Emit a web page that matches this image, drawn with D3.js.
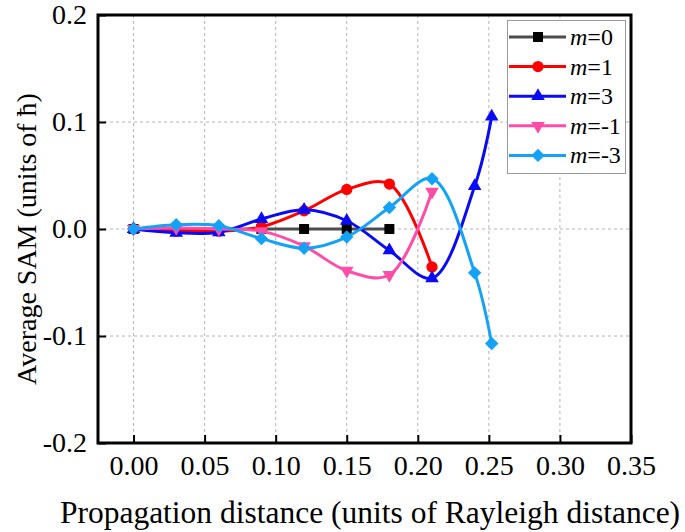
<!DOCTYPE html>
<html>
<head>
<meta charset="utf-8">
<script src="https://cdn.jsdelivr.net/npm/d3@7"></script>
<style>
  body { margin: 0; background: #fff; }
  svg { display: block; }
</style>
</head>
<body>
<svg id="chart" width="685" height="532"></svg>
<script>
// propagation distance (units of Rayleigh distance)
const distance = [0, 0.03, 0.06, 0.09, 0.12, 0.15, 0.18, 0.21, 0.24, 0.252];

// average SAM per topological charge
const samM0 = [0, 0, 0, 0, 0, 0, 0];
const samM1 = [0, -0.002, -0.002, 0.002, 0.017, 0.037, 0.042, -0.0355];
const samM3 = [0, -0.0035, -0.003, 0.0093, 0.018, 0.0077, -0.020, -0.046, 0.040, 0.105];
const samMneg1 = [0, 0.001, 0, -0.002, -0.016, -0.039, -0.043, 0.035];
const samMneg3 = [0, 0.004, 0.003, -0.009, -0.018, -0.0075, 0.020, 0.047, -0.041, -0.107];

const seriesNames = ['0', '1', '3', '-1', '-3'];
const xTicks = [0, 0.05, 0.10, 0.15, 0.20, 0.25, 0.30, 0.35];
const yTicks = [-0.2, -0.1, 0.0, 0.1, 0.2];

const series = [
  { name: seriesNames[0], values: samM0, line: '#4d4d4d', fill: '#000', symbol: 'square' },
  { name: seriesNames[1], values: samM1, line: '#ff0000', fill: '#ff0000', symbol: 'circle' },
  { name: seriesNames[2], values: samM3, line: '#0a0af5', fill: '#0a0af5', symbol: 'up' },
  { name: seriesNames[3], values: samMneg1, line: '#ff4ca6', fill: '#ff4ca6', symbol: 'down' },
  { name: seriesNames[4], values: samMneg3, line: '#14a2f7', fill: '#14a2f7', symbol: 'diamond' },
];

const serif = 'Liberation Serif';
const svg = d3.select('#chart')
  .attr('font-family', serif);
const plotLeft = 98;
const plotRight = 631;
const plotTop = 15;
const plotBottom = 443;

const x = d3.scaleLinear().domain([-0.025, 0.35]).range([plotLeft, plotRight]);
const y = d3.scaleLinear().domain([-0.2, 0.2]).range([plotBottom, plotTop]);

// grid
const grid = svg.append('g')
  .attr('stroke', '#b4b4b4')
  .attr('stroke-width', 1)
  .attr('stroke-dasharray', '3,3');
grid.selectAll('.gx').data(xTicks.slice(0, -1)).enter().append('line')
  .attr('x1', d => x(d)).attr('x2', d => x(d))
  .attr('y1', plotTop).attr('y2', plotBottom);
grid.selectAll('.gy').data(yTicks.slice(1, -1)).enter().append('line')
  .attr('x1', plotLeft).attr('x2', plotRight)
  .attr('y1', d => y(d)).attr('y2', d => y(d));

// axes (ticks pointing inwards)
const xAxis = svg.append('g')
  .attr('transform', `translate(0,${plotBottom})`)
  .call(d3.axisBottom(x).tickValues(xTicks).tickFormat(d3.format('.2f'))
    .tickSize(-8).tickPadding(12));
const yAxis = svg.append('g')
  .attr('transform', `translate(${plotLeft},0)`)
  .call(d3.axisLeft(y).tickValues(yTicks).tickFormat(d => d3.format('.1f')(d).replace('−', '-'))
    .tickSize(-8).tickPadding(11));
[xAxis, yAxis].forEach((a) => {
  a.attr('font-family', serif).attr('font-size', 28);
  a.select('.domain').remove();
  a.selectAll('.tick line').attr('stroke', '#000').attr('stroke-width', 2);
  a.selectAll('.tick text').attr('fill', '#000');
});
xAxis.selectAll('.tick text').attr('dy', '0.71em');

// frame
svg.append('rect')
  .attr('x', plotLeft).attr('y', plotTop)
  .attr('width', plotRight - plotLeft).attr('height', plotBottom - plotTop)
  .attr('fill', 'none')
  .attr('stroke', '#000')
  .attr('stroke-width', 3);

// axis titles
svg.append('text')
  .attr('x', 370).attr('y', 523)
  .attr('text-anchor', 'middle')
  .attr('font-family', serif)
  .attr('font-size', 31.5)
  .text('Propagation distance (units of Rayleigh distance)');
svg.append('text')
  .attr('transform', 'translate(36,239)rotate(-90)')
  .attr('text-anchor', 'middle')
  .attr('font-family', serif)
  .attr('font-size', 28)
  .text('Average SAM (units of ħ)');

function symbolPath(kind) {
  if (kind === 'square') return d3.symbol(d3.symbolSquare, 100)();
  if (kind === 'circle') return d3.symbol(d3.symbolCircle, 100)();
  if (kind === 'diamond') return d3.symbol(d3.symbolSquare, 90)();
  return d3.symbol(d3.symbolTriangle, 80)();
}
function symbolRotate(kind) {
  if (kind === 'down') return 180;
  if (kind === 'diamond') return 45;
  return 0;
}

const line = d3.line()
  .curve(d3.curveCatmullRom.alpha(0.5))
  .x((d, i) => x(distance[i]))
  .y(d => y(d));

const plot = svg.append('g');
series.forEach((s) => {
  const g = plot.append('g');
  g.append('path')
    .datum(s.values)
    .attr('d', line)
    .attr('fill', 'none')
    .attr('stroke', s.line)
    .attr('stroke-width', 3);
  g.selectAll('path.pt').data(s.values).enter().append('path')
    .attr('class', 'pt')
    .attr('d', symbolPath(s.symbol))
    .attr('transform', (d, i) => `translate(${x(distance[i])},${y(d)})rotate(${symbolRotate(s.symbol)})`)
    .attr('fill', s.fill);
});

// legend
const legend = svg.append('g');
legend.append('rect')
  .attr('x', 507.5).attr('y', 20.5)
  .attr('width', 118).attr('height', 153)
  .attr('fill', '#fff')
  .attr('stroke', '#999')
  .attr('stroke-width', 1);
series.forEach((s, i) => {
  const ly = 37 + i * 29.6;
  const item = legend.append('g').attr('transform', `translate(0,${ly})`);
  item.append('line')
    .attr('x1', 509).attr('x2', 566)
    .attr('stroke', s.line).attr('stroke-width', 3);
  item.append('path')
    .attr('d', symbolPath(s.symbol))
    .attr('transform', `translate(538,0)rotate(${symbolRotate(s.symbol)})`)
    .attr('fill', s.fill);
  const t = item.append('text')
    .attr('x', 570).attr('y', 8)
    .attr('font-family', serif)
    .attr('font-size', 24);
  t.append('tspan').attr('font-style', 'italic').text('m');
  t.append('tspan').text(`=${s.name}`);
});
</script>
</body>
</html>
